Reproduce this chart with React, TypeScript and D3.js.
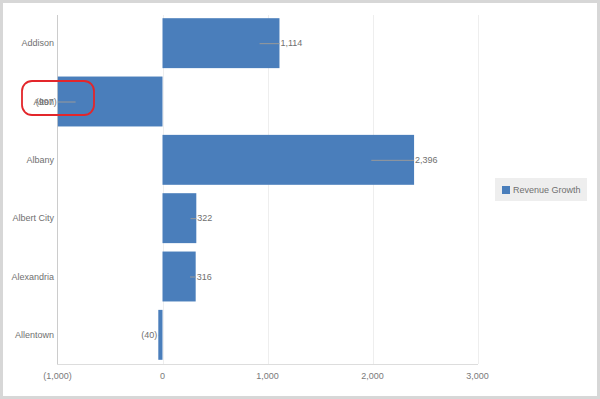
import * as d3 from "d3";
import { useEffect, useRef } from "react";

const width = 600;
const height = 399;

const cities = ["Addison", "Alton", "Albany", "Albert City", "Alexandria", "Allentown"];
const growth = [1114, -997, 2396, 322, 316, -40];
const ticks = [-1000, 0, 1000, 2000, 3000];
const seriesName = "Revenue Growth";

const fmt = (v: number) => {
  const s = d3.format(",")(Math.abs(v));
  return v < 0 ? `(${s})` : s;
};

function App() {
  const ref = useRef<SVGSVGElement | null>(null);

  useEffect(() => {
    const svg = d3.select(ref.current);
    svg.selectAll("*").remove();

    // outer frame
    svg.append("rect").attr("width", width).attr("height", height).attr("fill", "#d7d7d7");
    svg.append("rect").attr("x", 3).attr("y", 3).attr("width", width - 6).attr("height", height - 6).attr("fill", "#fff");

    const x = d3.scaleLinear().domain([-1000, 3000]).range([57.5, 477.5]);
    const y = d3.scaleBand<string>().domain(cities).range([14, 364]).paddingInner(0.144).paddingOuter(0.072);

    const g = svg.append("g").style("font-family", "Arial, 'Liberation Sans', sans-serif").style("font-size", "9px");

    // gridlines
    g.selectAll("line.grid")
      .data(ticks.filter((t) => t > -1000))
      .enter()
      .append("line")
      .attr("x1", (d) => Math.round(x(d)) + 0.5)
      .attr("x2", (d) => Math.round(x(d)) + 0.5)
      .attr("y1", 15)
      .attr("y2", 364)
      .attr("stroke", "#eeeeee");

    // axis lines
    g.append("line").attr("x1", 57.5).attr("x2", 57.5).attr("y1", 15).attr("y2", 364.5).attr("stroke", "#cccccc");
    g.append("line").attr("x1", 57).attr("x2", 478).attr("y1", 364.5).attr("y2", 364.5).attr("stroke", "#dddddd");

    // tick labels
    g.selectAll("text.tick")
      .data(ticks)
      .enter()
      .append("text")
      .attr("x", (d) => x(d))
      .attr("y", 379)
      .attr("text-anchor", "middle")
      .attr("fill", "#7a7a7a")
      .text(fmt);

    // category labels
    g.selectAll("text.cat")
      .data(cities)
      .enter()
      .append("text")
      .attr("x", 54)
      .attr("y", (d) => (y(d) as number) + y.bandwidth() / 2)
      .attr("dy", "0.35em")
      .attr("text-anchor", "end")
      .attr("fill", "#707070")
      .text((d) => d);

    // bars
    g.selectAll("rect.bar")
      .data(growth)
      .enter()
      .append("rect")
      .attr("x", (d) => x(Math.min(0, d)))
      .attr("y", (d, i) => y(cities[i]) as number)
      .attr("width", (d) => Math.abs(x(d) - x(0)))
      .attr("height", y.bandwidth())
      .attr("fill", "#4a7ebb");

    // leader lines (inside the bar, about a sixth of its length)
    g.selectAll("line.lead")
      .data(growth)
      .enter()
      .append("line")
      .attr("x1", (d) => x(d))
      .attr("x2", (d) => {
        const len = Math.abs(x(d) - x(0)) * 0.17;
        return d < 0 ? x(d) + len : x(d) - len;
      })
      .attr("y1", (d, i) => (y(cities[i]) as number) + y.bandwidth() / 2 + 0.5)
      .attr("y2", (d, i) => (y(cities[i]) as number) + y.bandwidth() / 2 + 0.5)
      .attr("stroke", "#999")
      .attr("stroke-width", 1);

    // value labels
    g.selectAll("text.val")
      .data(growth)
      .enter()
      .append("text")
      .attr("x", (d) => (d < 0 ? x(d) - 1 : x(d) + 1))
      .attr("y", (d, i) => (y(cities[i]) as number) + y.bandwidth() / 2)
      .attr("dy", "0.35em")
      .attr("text-anchor", (d) => (d < 0 ? "end" : "start"))
      .attr("fill", "#707070")
      .text(fmt);

    // legend
    const lg = g.append("g");
    lg.append("rect").attr("x", 495).attr("y", 178).attr("width", 92).attr("height", 23).attr("fill", "#eeeeee");
    lg.append("rect").attr("x", 502).attr("y", 186).attr("width", 8).attr("height", 8).attr("fill", "#4a7ebb");
    lg.append("text").attr("x", 513).attr("y", 193).attr("fill", "#707070").text(seriesName);

    // red highlight around the overlapping label
    svg.append("rect")
      .attr("x", 22)
      .attr("y", 81)
      .attr("width", 72)
      .attr("height", 34)
      .attr("rx", 10)
      .attr("fill", "none")
      .attr("stroke", "#e3262b")
      .attr("stroke-width", 1.8);
  }, []);

  return (
    <svg
      ref={ref}
      width={width}
      height={height}
      style={{ position: "absolute", left: 0, top: 0, display: "block" }}
    />
  );
}

export default App;
